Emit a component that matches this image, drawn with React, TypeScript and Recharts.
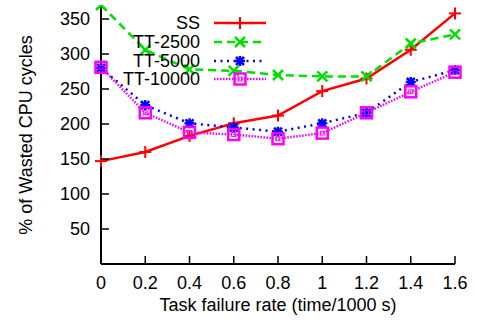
import { LineChart, Line, XAxis, YAxis } from "recharts";

const failureRate = [0, 0.2, 0.4, 0.6, 0.8, 1.0, 1.2, 1.4, 1.6];
const ssValues = [147, 160, 183, 201, 212, 247, 265, 306, 358];
const tt2500Values = [370, 306, 278, 276, 270, 268, 268, 315, 328];
const tt5000Values = [280, 227, 201, 195, 189, 201, 216, 260, 277];
const tt10000Values = [281, 216, 188, 185, 179, 187, 216, 246, 274];

const xTicks = [0, 0.2, 0.4, 0.6, 0.8, 1, 1.2, 1.4, 1.6];
const yTicks = [50, 100, 150, 200, 250, 300, 350];

const FONT = "'Liberation Sans', Arial, Helvetica, sans-serif";

type MarkerKind = "plus" | "cross" | "star" | "square";

const SERIES: {
  key: string;
  name: string;
  color: string;
  dash?: string;
  marker: MarkerKind;
}[] = [
  { key: "ss", name: "SS", color: "#ff0000", marker: "plus" },
  { key: "tt2500", name: "TT-2500", color: "#00e000", dash: "8 5", marker: "cross" },
  { key: "tt5000", name: "TT-5000", color: "#0000ff", dash: "2 4.5", marker: "star" },
  { key: "tt10000", name: "TT-10000", color: "#ff00ff", dash: "1.5 1.5", marker: "square" },
];

const chartData = failureRate.map((x, i) => ({
  x,
  ss: ssValues[i],
  tt2500: tt2500Values[i],
  tt5000: tt5000Values[i],
  tt10000: tt10000Values[i],
}));

function Marker({ kind, cx, cy, color }: { kind: MarkerKind; cx: number; cy: number; color: string }) {
  if (kind === "plus") {
    return (
      <g stroke={color} strokeWidth={2}>
        <line x1={cx - 6} y1={cy} x2={cx + 6} y2={cy} />
        <line x1={cx} y1={cy - 6} x2={cx} y2={cy + 6} />
      </g>
    );
  }
  if (kind === "cross") {
    return (
      <g stroke={color} strokeWidth={2.5}>
        <line x1={cx - 5} y1={cy - 5} x2={cx + 5} y2={cy + 5} />
        <line x1={cx - 5} y1={cy + 5} x2={cx + 5} y2={cy - 5} />
      </g>
    );
  }
  if (kind === "star") {
    return (
      <g stroke={color} strokeWidth={2.5}>
        <line x1={cx - 5} y1={cy} x2={cx + 5} y2={cy} />
        <line x1={cx} y1={cy - 5} x2={cx} y2={cy + 5} />
        <line x1={cx - 4} y1={cy - 4} x2={cx + 4} y2={cy + 4} />
        <line x1={cx - 4} y1={cy + 4} x2={cx + 4} y2={cy - 4} />
      </g>
    );
  }
  return (
    <g stroke={color} fill="none">
      <rect x={cx - 5.5} y={cy - 5.5} width={11} height={11} strokeWidth={2.5} />
      <rect x={cx - 2} y={cy - 2} width={4} height={4} strokeWidth={1} />
    </g>
  );
}

// inward ticks; labels drawn next to them
function BottomTick(props: any) {
  const { x, y, payload } = props;
  return (
    <g>
      <line x1={x} y1={y} x2={x} y2={y - 8} stroke="#000" strokeWidth={1.5} />
      <text x={x} y={y + 25} textAnchor="middle" fontSize={18} fontFamily={FONT} fill="#000">
        {String(payload.value)}
      </text>
    </g>
  );
}

function LeftTick(props: any) {
  const { x, y, payload } = props;
  return (
    <g>
      <line x1={x} y1={y} x2={x + 8} y2={y} stroke="#000" strokeWidth={1.5} />
      <text x={x - 11} y={y + 6} textAnchor="end" fontSize={18} fontFamily={FONT} fill="#000">
        {String(payload.value)}
      </text>
    </g>
  );
}

function TopTick(props: any) {
  const { x, y } = props;
  return <line x1={x} y1={y} x2={x} y2={y + 8} stroke="#000" strokeWidth={1.5} />;
}

function RightTick(props: any) {
  const { x, y } = props;
  return <line x1={x} y1={y} x2={x - 8} y2={y} stroke="#000" strokeWidth={1.5} />;
}

export default function App() {
  const legendRows = [23, 42, 61, 79];
  return (
    <div style={{ position: "absolute", left: 0, top: 0, width: 477, height: 322, background: "#fff" }}>
      <LineChart
        width={477}
        height={322}
        data={chartData}
        margin={{ top: 5, right: 22, bottom: 0, left: 0 }}
      >
        <XAxis
          xAxisId="b"
          dataKey="x"
          type="number"
          domain={[0, 1.6]}
          ticks={xTicks}
          height={58}
          tickSize={0}
          tickMargin={0}
          tickLine={false}
          axisLine={{ stroke: "#000", strokeWidth: 2 }}
          tick={<BottomTick />}
          interval={0}
        />
        <XAxis
          xAxisId="t"
          orientation="top"
          dataKey="x"
          type="number"
          domain={[0, 1.6]}
          allowDataOverflow
          ticks={xTicks}
          height={0}
          tickSize={0}
          tickMargin={0}
          tickLine={false}
          axisLine={{ stroke: "#000", strokeWidth: 2 }}
          tick={<TopTick />}
          interval={0}
        />
        <YAxis
          yAxisId="l"
          type="number"
          domain={[0, 370]}
          allowDataOverflow
          ticks={yTicks}
          width={101}
          tickSize={0}
          tickMargin={0}
          tickLine={false}
          axisLine={{ stroke: "#000", strokeWidth: 2 }}
          tick={<LeftTick />}
          interval={0}
        />
        <YAxis
          yAxisId="r"
          orientation="right"
          type="number"
          domain={[0, 370]}
          allowDataOverflow
          ticks={yTicks}
          width={0}
          tickSize={0}
          tickMargin={0}
          tickLine={false}
          axisLine={{ stroke: "#000", strokeWidth: 2 }}
          tick={<RightTick />}
          interval={0}
        />
        {SERIES.map((s) => (
          <Line
            key={s.key}
            xAxisId="b"
            yAxisId="l"
            dataKey={s.key}
            name={s.name}
            type="linear"
            stroke={s.color}
            strokeWidth={2.5}
            strokeDasharray={s.dash}
            isAnimationActive={false}
            dot={(p: any) => (
              <Marker key={`${s.key}-${p.index}`} kind={s.marker} cx={p.cx} cy={p.cy} color={s.color} />
            )}
            activeDot={false}
          />
        ))}
      </LineChart>
      <svg
        width={477}
        height={322}
        style={{ position: "absolute", left: 0, top: 0, pointerEvents: "none" }}
      >
        {SERIES.map((s, i) => (
          <g key={s.key}>
            <text x={200} y={legendRows[i] + 6} textAnchor="end" fontSize={18} fontFamily={FONT} fill="#000">
              {s.name}
            </text>
            <line
              x1={214}
              y1={legendRows[i]}
              x2={266}
              y2={legendRows[i]}
              stroke={s.color}
              strokeWidth={2.5}
              strokeDasharray={s.dash}
            />
            <Marker kind={s.marker} cx={240} cy={legendRows[i]} color={s.color} />
          </g>
        ))}
        <text x={278} y={311} textAnchor="middle" fontSize={18} fontFamily={FONT} fill="#000">
          Task failure rate (time/1000 s)
        </text>
        <text
          x={26}
          y={135}
          textAnchor="middle"
          dominantBaseline="central"
          transform="rotate(-90 26 135)"
          fontSize={18}
          fontFamily={FONT}
          fill="#000"
        >
          % of Wasted CPU cycles
        </text>
      </svg>
    </div>
  );
}
